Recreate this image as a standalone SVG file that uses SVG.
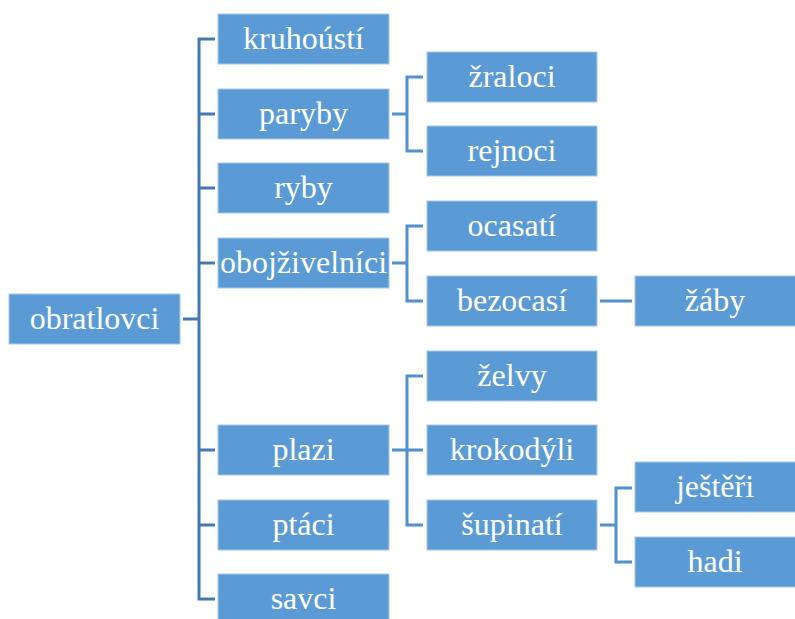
<svg xmlns="http://www.w3.org/2000/svg" width="795" height="619" viewBox="0 0 795 619">
  <style>
    .box { fill: #5B9BD5; stroke: #A9C8EA; stroke-width: 1; }
    .lbl { font-family: "Liberation Serif", "Times New Roman", serif; font-size: 32px; fill: #FFFFFF; text-anchor: middle; }
    .main { fill: none; stroke: #4677AE; stroke-width: 3; }
    .sub { fill: none; stroke: #5390CC; stroke-width: 3; }
  </style>
  <rect width="795" height="619" fill="#FFFFFF"/>

  <!-- connectors -->
  <g id="connectors">
    <!-- root trunk -->
    <path class="main" d="M183 319 H199"/>
    <path class="main" d="M215 39 H199 V599 H215"/>
    <path class="main" d="M199 114 H215 M199 188 H215 M199 263 H215 M199 450 H215 M199 525 H215"/>
    <!-- paryby -->
    <path class="sub" d="M392 114 H407 M423 77 H407 V151 H423"/>
    <!-- obojzivelnici -->
    <path class="sub" d="M392 263 H407 M423 226 H407 V301 H423"/>
    <!-- bezocasi -> zaby -->
    <path class="sub" d="M600 301 H632"/>
    <!-- plazi -->
    <path class="sub" d="M392 450 H423 M423 376 H407 V525 H423"/>
    <!-- supinati -->
    <path class="sub" d="M600 525 H616 M632 488 H616 V562 H632"/>
  </g>

  <!-- nodes: white serif labels centred in blue boxes -->
  <g id="nodes">
    <g id="obratlovci"><rect class="box" x="9" y="294" width="171" height="50"/><text class="lbl" x="94.5" y="329">obratlovci</text></g>

    <g id="kruhousti"><rect class="box" x="218" y="14" width="171" height="50"/><text class="lbl" x="303.5" y="49">kruhoústí</text></g>
    <g id="paryby"><rect class="box" x="218" y="89" width="171" height="50"/><text class="lbl" x="303.5" y="124">paryby</text></g>
    <g id="ryby"><rect class="box" x="218" y="163" width="171" height="50"/><text class="lbl" x="303.5" y="198">ryby</text></g>
    <g id="obojzivelnici"><rect class="box" x="218" y="238" width="171" height="50"/><text class="lbl" x="303.5" y="273">obojživelníci</text></g>
    <g id="plazi"><rect class="box" x="218" y="425" width="171" height="50"/><text class="lbl" x="303.5" y="460">plazi</text></g>
    <g id="ptaci"><rect class="box" x="218" y="500" width="171" height="50"/><text class="lbl" x="303.5" y="535">ptáci</text></g>
    <g id="savci"><rect class="box" x="218" y="574" width="171" height="50"/><text class="lbl" x="303.5" y="609">savci</text></g>

    <g id="zraloci"><rect class="box" x="427" y="52" width="170" height="50"/><text class="lbl" x="512" y="87">žraloci</text></g>
    <g id="rejnoci"><rect class="box" x="427" y="126" width="170" height="50"/><text class="lbl" x="512" y="161">rejnoci</text></g>
    <g id="ocasati"><rect class="box" x="427" y="201" width="170" height="50"/><text class="lbl" x="512" y="236">ocasatí</text></g>
    <g id="bezocasi"><rect class="box" x="427" y="276" width="170" height="50"/><text class="lbl" x="512" y="311">bezocasí</text></g>
    <g id="zelvy"><rect class="box" x="427" y="351" width="170" height="50"/><text class="lbl" x="512" y="386">želvy</text></g>
    <g id="krokodyli"><rect class="box" x="427" y="425" width="170" height="50"/><text class="lbl" x="512" y="460">krokodýli</text></g>
    <g id="supinati"><rect class="box" x="427" y="500" width="170" height="50"/><text class="lbl" x="512" y="535">šupinatí</text></g>

    <g id="zaby"><rect class="box" x="635" y="276" width="165" height="50"/><text class="lbl" x="715" y="311">žáby</text></g>
    <g id="jesteri"><rect class="box" x="635" y="462" width="165" height="50"/><text class="lbl" x="715" y="497">ještěři</text></g>
    <g id="hadi"><rect class="box" x="635" y="537" width="165" height="50"/><text class="lbl" x="715" y="572">hadi</text></g>
  </g>
</svg>
